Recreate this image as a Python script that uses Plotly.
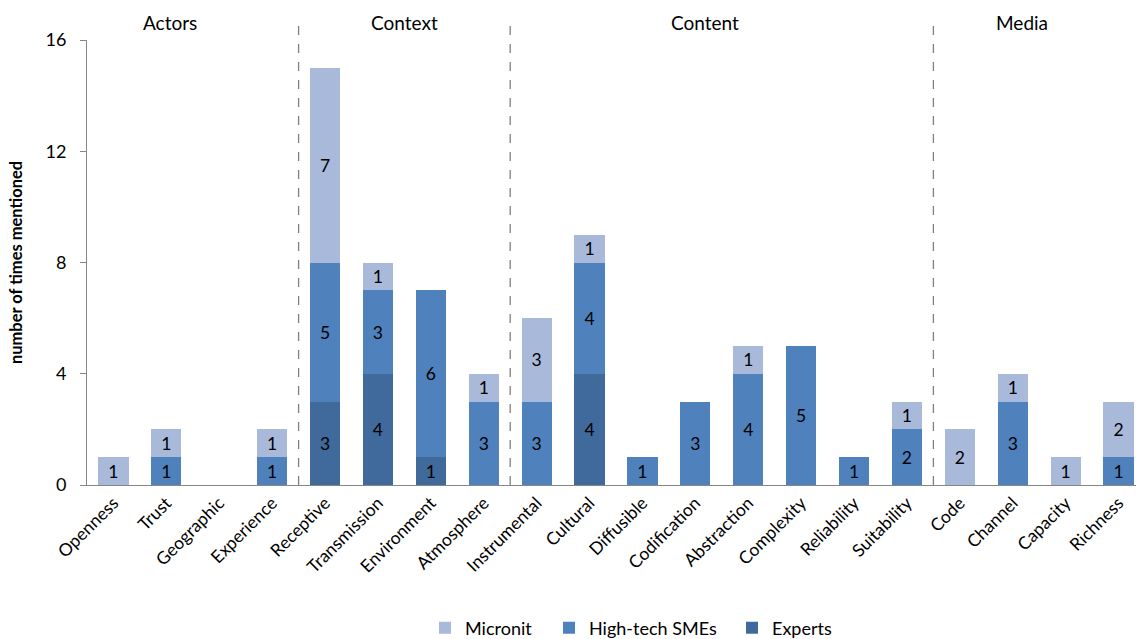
import plotly.graph_objects as go

categories = ["Openness", "Trust", "Geographic", "Experience", "Receptive", "Transmission",
              "Environment", "Atmosphere", "Instrumental", "Cultural", "Diffusible",
              "Codification", "Abstraction", "Complexity", "Reliability", "Suitability",
              "Code", "Channel", "Capacity", "Richness"]
experts = [0, 0, 0, 0, 3, 4, 1, 0, 0, 4, 0, 0, 0, 0, 0, 0, 0, 0, 0, 0]
hightech = [0, 1, 0, 1, 5, 3, 6, 3, 3, 4, 1, 3, 4, 5, 1, 2, 0, 3, 0, 1]
micronit = [1, 1, 0, 1, 7, 1, 0, 1, 3, 1, 0, 0, 1, 0, 0, 1, 2, 1, 1, 2]
groups = ["Actors", "Context", "Content", "Media"]
group_dividers = [3.5, 7.5, 15.5]
group_label_x = [1.07, 5.51, 11.18, 17.17]
yticks = [0, 4, 8, 12, 16]

FONT = "Lato"
fig = go.Figure()
series = [("Experts", experts, "#3f6a9b", "legend3"),
          ("High-tech SMEs", hightech, "#4f81bd", "legend2"),
          ("Micronit", micronit, "#a8b9da", "legend")]
for name, vals, col, lg in series:
    fig.add_trace(go.Bar(
        x=categories, y=vals, name=name, marker=dict(color=col, line=dict(width=0)),
        text=[str(v) if v else "" for v in vals], textposition="inside",
        insidetextanchor="middle", textangle=0, legend=lg,
        textfont=dict(color="black", size=17.5, family=FONT), width=0.57,
        cliponaxis=False))

for xpos in group_dividers:
    fig.add_shape(type="line", xref="x", yref="paper", x0=xpos, x1=xpos, y0=0, y1=1.045,
                  line=dict(color="#808080", width=1.3, dash="dash"))
for g, gx in zip(groups, group_label_x):
    fig.add_annotation(x=gx, y=1.04, xref="x", yref="paper", text=g, showarrow=False,
                       font=dict(size=19, family=FONT, color="black"), yanchor="middle")

def leg(xpx):
    return dict(orientation="h", x=xpx / 1136, xref="container", xanchor="left",
                y=0.017, yref="container", yanchor="middle",
                font=dict(size=18, family=FONT), itemwidth=30, bgcolor="rgba(0,0,0,0)")

fig.update_layout(
    barmode="stack", width=1136, height=639, plot_bgcolor="white", paper_bgcolor="white",
    margin=dict(l=87, r=0, t=40, b=154, autoexpand=False),
    font=dict(family=FONT, color="black"),
    legend=leg(425), legend2=leg(549), legend3=leg(732),
    xaxis=dict(range=[-0.5, 19.33], tickangle=-45, tickfont=dict(size=17.5, family=FONT),
               showline=True, linecolor="#868686", linewidth=1, ticks="", automargin=False),
    yaxis=dict(range=[0, 16], tickvals=yticks, showgrid=False, zeroline=False,
               showline=True, linecolor="#868686", linewidth=1, ticks="outside",
               ticklen=6, tickcolor="#868686", tickfont=dict(size=18, family=FONT),
               ticklabelstandoff=10, automargin=False,
               title=dict(text="<b>number of times mentioned</b>", font=dict(size=16.5, family=FONT),
                          standoff=18)),
    showlegend=True
)
fig.write_html("out.html")
